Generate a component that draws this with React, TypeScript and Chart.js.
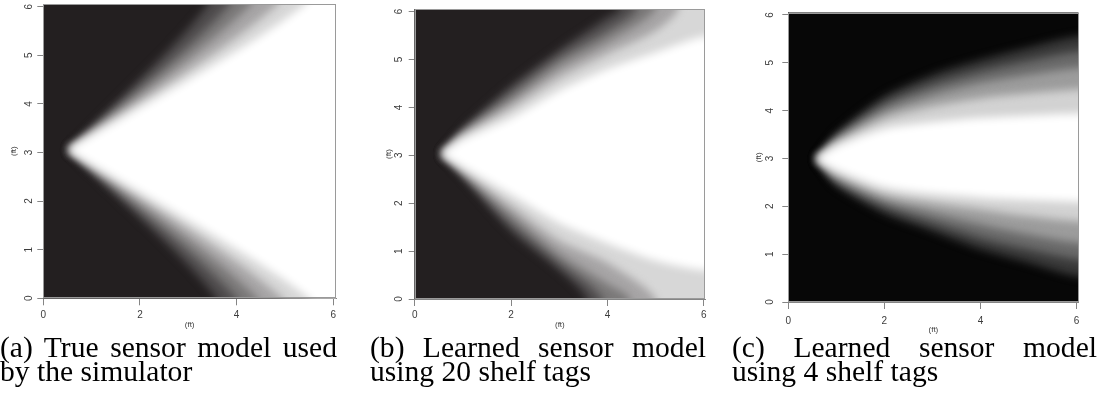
import React, { useEffect, useRef } from "react";
import { Chart, registerables } from "chart.js";

Chart.register(...registerables);

type Pt = [number, number];

// ---------- shared axis data ----------
const X_TICKS = [0, 2, 4, 6];
const Y_TICKS = [0, 1, 2, 3, 4, 5, 6];
const AXIS_TITLE = "(ft)";

const LEVELS = [0.1, 0.3, 0.5, 0.7, 0.9];
const LEVEL_SHADES = [0.2, 0.4, 0.6, 0.82, 1.0];

// ---------- (a) true sensor model : contour points [x(ft), y(ft)] ----------
const A_APEX: Pt = [0.52, 3.05];
const A_UPPER: Pt[][] = [
  [[3.41, 6]],
  [[3.86, 6]],
  [[4.3, 6]],
  [[4.85, 6]],
  [[5.42, 6]],
];
const A_LOWER: Pt[][] = [
  [[3.59, 0]],
  [[4.0, 0]],
  [[4.44, 0]],
  [[4.95, 0]],
  [[5.5, 0]],
];

// ---------- (b) learned with 20 shelf tags ----------
const B_APEX: Pt = [0.56, 3.03];
const B_UPPER: Pt[][] = [
  [[1, 3.55], [2, 4.45], [3, 5.2], [4, 5.88], [4.25, 6]],
  [[1, 3.5], [2, 4.28], [3, 5.02], [4, 5.6], [4.6, 6]],
  [[1, 3.45], [2, 4.12], [3, 4.84], [4, 5.37], [5.0, 6]],
  [[1, 3.39], [2, 3.98], [3, 4.62], [4, 5.12], [5, 5.6], [5.47, 6]],
  [[1, 3.33], [2, 3.78], [3, 4.35], [4, 4.8], [5, 5.15], [6, 5.48]],
];
const B_LOWER: Pt[][] = [
  [[1, 2.55], [2, 1.42], [3, 0.6], [3.57, 0]],
  [[1, 2.6], [2, 1.6], [3, 0.78], [3.9, 0]],
  [[1, 2.65], [2, 1.78], [3, 0.95], [4, 0.32], [4.47, 0]],
  [[1, 2.7], [2, 1.95], [3, 1.22], [4, 0.75], [5.0, 0]],
  [[1, 2.76], [2, 2.18], [3, 1.58], [4, 1.16], [5, 0.8], [6, 0.6]],
];

// ---------- (c) learned with 4 shelf tags ----------
const C_APEX: Pt = [0.58, 2.99];
const C_UPPER: Pt[][] = [
  [[1, 3.52], [2, 4.3], [3, 4.75], [4, 5.06], [5, 5.32], [6, 5.55]],
  [[1, 3.45], [2, 4.14], [3, 4.54], [4, 4.82], [5, 5.04], [6, 5.23]],
  [[1, 3.38], [2, 3.98], [3, 4.33], [4, 4.58], [5, 4.75], [6, 4.89]],
  [[1, 3.32], [2, 3.83], [3, 4.09], [4, 4.26], [5, 4.36], [6, 4.44]],
  [[1, 3.25], [2, 3.62], [3, 3.76], [4, 3.85], [5, 3.9], [6, 3.94]],
];
const C_LOWER: Pt[][] = [
  [[1, 2.44], [2, 1.85], [3, 1.48], [4, 1.1], [5, 0.82], [6, 0.54]],
  [[1, 2.52], [2, 2.0], [3, 1.66], [4, 1.34], [5, 1.1], [6, 0.89]],
  [[1, 2.6], [2, 2.13], [3, 1.86], [4, 1.62], [5, 1.41], [6, 1.24]],
  [[1, 2.68], [2, 2.25], [3, 2.07], [4, 1.93], [5, 1.79], [6, 1.69]],
  [[1, 2.76], [2, 2.4], [3, 2.26], [4, 2.18], [5, 2.13], [6, 2.09]],
];

// ---------- captions ----------
const CAPTION_A = ["(a) True sensor model used", "by the simulator"];
const CAPTION_B = ["(b) Learned sensor model", "using 20 shelf tags"];
const CAPTION_C = ["(c) Learned sensor model", "using 4 shelf tags"];

// ---------- styling / layout ----------
const CANVAS_H = 336;
const AXIS_COLOR = "#858585";
const TEXT_COLOR = "#3c3c3c";
const FRAME_COLOR = "#9a9a9a";
const TICK_FONT = { family: "'Liberation Sans', Arial, sans-serif", size: 10 };
const TITLE_FONT = { family: "'Liberation Sans', Arial, sans-serif", size: 8 };
const SMOOTH_PX = 4; // softening of the shade bands (the map is a smooth raster)
const OUTSIDE = 1; // ft, polygons run past the plot edge so softening does not darken edges

type Panel = {
  apex: Pt;
  upper: Pt[][];
  lower: Pt[][];
  caption: string[];
  canvasLeft: number;
  canvasW: number;
  left: number;
  right: number;
  top: number;
  bottom: number;
  xMax: number;
  yMax: number;
  black: [number, number, number];
  yLabelOffset: number;
  yTitlePad: number;
  xTitlePad: number;
  xTickPad: number;
  capLeft: number;
  capWidth: number;
};

const PANELS: Panel[] = [
  {
    apex: A_APEX, upper: A_UPPER, lower: A_LOWER, caption: CAPTION_A,
    canvasLeft: 0, canvasW: 366, left: 43.3, right: 336, top: 4, bottom: 298.3,
    xMax: 6.056, yMax: 6.055, black: [35, 31, 32],
    yLabelOffset: -14, yTitlePad: 9.2, xTitlePad: 6.2, xTickPad: 4,
    capLeft: 0, capWidth: 337,
  },
  {
    apex: B_APEX, upper: B_UPPER, lower: B_LOWER, caption: CAPTION_B,
    canvasLeft: 366, canvasW: 362, left: 48.7, right: 339, top: 9, bottom: 299,
    xMax: 6.023, yMax: 6.054, black: [35, 31, 32],
    yLabelOffset: -15.4, yTitlePad: 17.5, xTitlePad: 6.2, xTickPad: 3.5,
    capLeft: 370, capWidth: 336,
  },
  {
    apex: C_APEX, upper: C_UPPER, lower: C_LOWER, caption: CAPTION_C,
    canvasLeft: 728, canvasW: 371, left: 60.3, right: 350.5, top: 12.5, bottom: 302,
    xMax: 6.04, yMax: 6.05, black: [7, 7, 7],
    yLabelOffset: -18.3, yTitlePad: 25.5, xTitlePad: 1.2, xTickPad: 6.5,
    capLeft: 732, capWidth: 365,
  },
];

function shade(black: [number, number, number], b: number) {
  const c = black.map((v) => Math.round(v + (255 - v) * b));
  return `rgb(${c[0]},${c[1]},${c[2]})`;
}

function contourPolygon(apex: Pt, upper: Pt[], lower: Pt[], xMax: number, yMax: number) {
  const up: { x: number; y: number }[] = [];
  let upAtEdge = false;
  for (const [x, y] of upper) {
    if (y >= 6) {
      up.push({ x, y: yMax });
      up.push({ x, y: yMax + OUTSIDE });
      upAtEdge = true;
    } else up.push({ x, y });
  }
  const lo: { x: number; y: number }[] = [];
  let loAtEdge = false;
  for (const [x, y] of lower) {
    if (y <= 0) {
      lo.push({ x, y: 0 });
      lo.push({ x, y: -OUTSIDE });
      loAtEdge = true;
    } else lo.push({ x, y });
  }
  const lastUp = up[up.length - 1];
  const lastLo = lo[lo.length - 1];
  const pts = [{ x: apex[0], y: apex[1] }, ...up];
  pts.push({ x: xMax + OUTSIDE, y: upAtEdge ? yMax + OUTSIDE : lastUp.y });
  pts.push({ x: xMax + OUTSIDE, y: loAtEdge ? -OUTSIDE : lastLo.y });
  pts.push(...lo.slice().reverse());
  pts.push({ x: apex[0], y: apex[1] });
  return pts;
}

const plotBackground = {
  id: "plotBackground",
  beforeDatasetsDraw(chart: any, _a: any, opts: any) {
    const { ctx, chartArea } = chart;
    ctx.save();
    ctx.fillStyle = opts.color;
    ctx.fillRect(chartArea.left, chartArea.top, chartArea.width, chartArea.height);
    ctx.restore();
    ctx.save();
    ctx.filter = `blur(${SMOOTH_PX}px)`;
  },
  afterDatasetsDraw(chart: any) {
    chart.ctx.restore();
  },
};

const plotFrame = {
  id: "plotFrame",
  afterDatasetsDraw(chart: any) {
    const { ctx, chartArea } = chart;
    ctx.save();
    ctx.filter = "none";
    ctx.strokeStyle = FRAME_COLOR;
    ctx.lineWidth = 1;
    ctx.strokeRect(
      Math.round(chartArea.left) + 0.5,
      Math.round(chartArea.top) + 0.5,
      Math.round(chartArea.right) - Math.round(chartArea.left) - 1,
      Math.round(chartArea.bottom) - Math.round(chartArea.top) - 1
    );
    ctx.restore();
  },
};

const rotatedYLabels = {
  id: "rotatedYLabels",
  afterDraw(chart: any, _a: any, opts: any) {
    const { ctx, chartArea } = chart;
    const y = chart.scales.y;
    ctx.save();
    ctx.filter = "none";
    ctx.fillStyle = TEXT_COLOR;
    ctx.font = `${TICK_FONT.size}px ${TICK_FONT.family}`;
    ctx.textAlign = "center";
    ctx.textBaseline = "middle";
    for (const v of Y_TICKS) {
      const py = y.getPixelForValue(v);
      ctx.save();
      ctx.translate(chartArea.left + opts.offset, py);
      ctx.rotate(-Math.PI / 2);
      ctx.fillText(String(v), 0, 0);
      ctx.restore();
    }
    ctx.restore();
  },
};

function buildConfig(p: Panel): any {
  const datasets = LEVELS.map((_, i) => ({
    data: contourPolygon(p.apex, p.upper[i], p.lower[i], p.xMax, p.yMax),
    showLine: true,
    fill: "shape",
    backgroundColor: shade(p.black, LEVEL_SHADES[i]),
    borderColor: "rgba(0,0,0,0)",
    borderWidth: 0,
    pointRadius: 0,
    pointHoverRadius: 0,
    tension: 0.25,
    capBezierPoints: false,
    order: 20 - i,
  }));
  return {
    type: "scatter",
    data: { datasets },
    plugins: [plotBackground, plotFrame, rotatedYLabels],
    options: {
      animation: false,
      responsive: false,
      maintainAspectRatio: false,
      devicePixelRatio: 1,
      events: [],
      elements: { line: { capBezierPoints: false } },
      layout: { padding: { left: 0, top: p.top, right: p.canvasW - p.right, bottom: 0 } },
      plugins: {
        legend: { display: false },
        tooltip: { enabled: false },
        plotBackground: { color: shade(p.black, 0) },
        rotatedYLabels: { offset: p.yLabelOffset },
      },
      scales: {
        x: {
          type: "linear",
          min: 0,
          max: p.xMax,
          afterBuildTicks: (s: any) => {
            s.ticks = X_TICKS.map((v) => ({ value: v }));
          },
          afterFit: (s: any) => {
            s.height = CANVAS_H - p.bottom;
          },
          ticks: {
            font: TICK_FONT,
            color: TEXT_COLOR,
            padding: p.xTickPad,
            maxRotation: 0,
            autoSkip: false,
            callback: (v: any) => String(v),
          },
          grid: { drawOnChartArea: false, drawTicks: true, tickLength: 7, color: AXIS_COLOR },
          border: { display: true, color: AXIS_COLOR },
          title: {
            display: true,
            text: AXIS_TITLE,
            font: TITLE_FONT,
            color: TEXT_COLOR,
            padding: { top: 0, bottom: p.xTitlePad },
          },
        },
        y: {
          type: "linear",
          min: 0,
          max: p.yMax,
          afterBuildTicks: (s: any) => {
            s.ticks = Y_TICKS.map((v) => ({ value: v }));
          },
          afterFit: (s: any) => {
            s.width = p.left;
          },
          ticks: { display: false },
          grid: { drawOnChartArea: false, drawTicks: true, tickLength: 6, color: AXIS_COLOR },
          border: { display: true, color: AXIS_COLOR },
          title: {
            display: true,
            text: AXIS_TITLE,
            font: TITLE_FONT,
            color: TEXT_COLOR,
            padding: { top: p.yTitlePad, bottom: 0 },
          },
        },
      },
    },
  };
}

const CAP_SCALE = 1.02;
const CAP_FONT = 29;
const CAP_TOPS = [333.4, 357.4];

export default function App() {
  const r0 = useRef<HTMLCanvasElement>(null);
  const r1 = useRef<HTMLCanvasElement>(null);
  const r2 = useRef<HTMLCanvasElement>(null);
  const refs = [r0, r1, r2];

  useEffect(() => {
    const charts = PANELS.map((p, i) => new Chart(refs[i].current as HTMLCanvasElement, buildConfig(p)));
    return () => charts.forEach((c) => c.destroy());
  }, []);

  return (
    <div
      style={{
        position: "absolute",
        left: 0,
        top: 0,
        width: 1099,
        height: 393,
        background: "#fff",
        overflow: "hidden",
      }}
    >
      {PANELS.map((p, i) => (
        <canvas
          key={"c" + i}
          ref={refs[i]}
          width={p.canvasW}
          height={CANVAS_H}
          style={{ position: "absolute", left: p.canvasLeft, top: 0, width: p.canvasW, height: CANVAS_H }}
        />
      ))}
      {PANELS.map((p, i) =>
        p.caption.map((line, j) => (
          <div
            key={"t" + i + "-" + j}
            style={{
              position: "absolute",
              left: p.capLeft,
              top: CAP_TOPS[j],
              width: p.capWidth / CAP_SCALE,
              fontFamily: "'Liberation Serif', 'Times New Roman', serif",
              fontSize: CAP_FONT,
              lineHeight: CAP_FONT + "px",
              color: "#000",
              textAlign: j === 0 ? "justify" : "left",
              textAlignLast: j === 0 ? "justify" : "left",
              transform: `scaleX(${CAP_SCALE})`,
              transformOrigin: "0 0",
            } as React.CSSProperties}
          >
            {line}
          </div>
        ))
      )}
    </div>
  );
}
